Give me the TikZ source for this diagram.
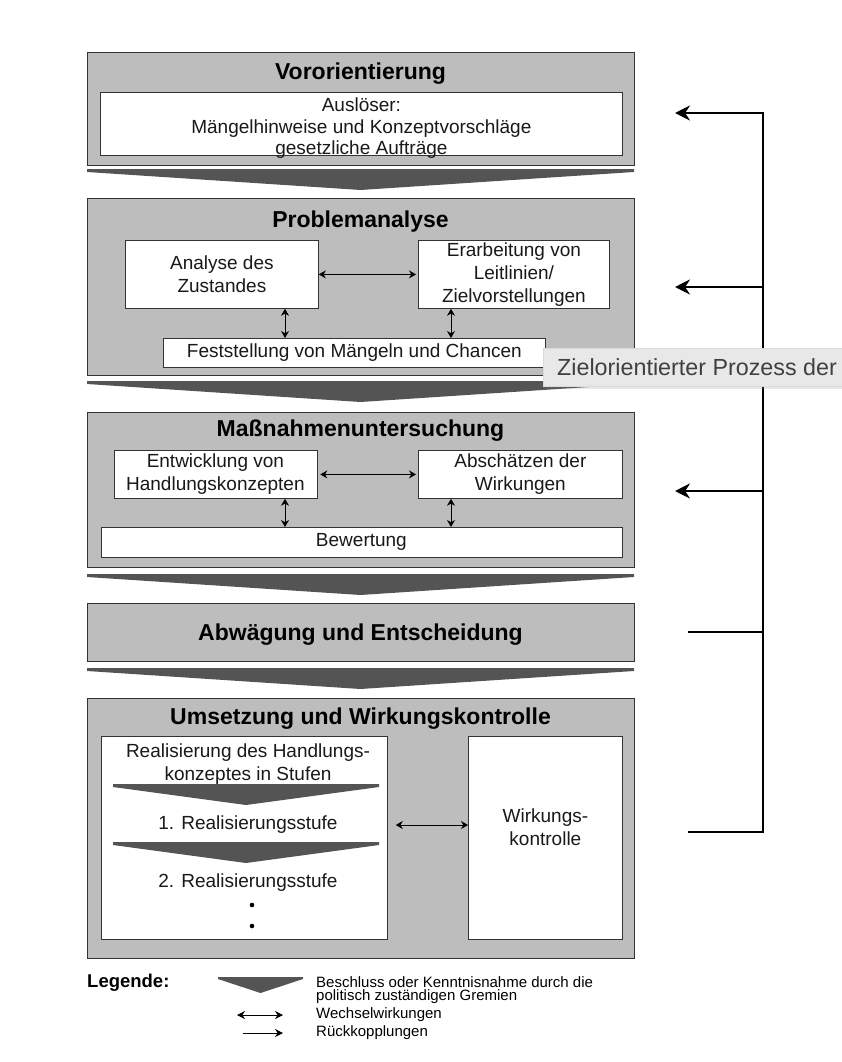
\documentclass[tikz,border=0pt]{standalone}
\usepackage{fontspec}
\setmainfont{Liberation Sans}
\usetikzlibrary{arrows.meta,positioning,shadows}
\tikzset {>=Stealth}
\definecolor{phasegrau}{gray}{0.74}
\definecolor{beschlussgrau}{gray}{0.33}
\definecolor{tipgrau}{gray}{0.91}

\begin{document}
\begin{tikzpicture}[x=1pt,y=-1pt,
  phase/.style={draw=black!80,line width=1.2pt,fill=phasegrau,
    anchor=north west,inner sep=0pt,minimum width=547pt},
  feld/.style={draw=black!80,line width=0.8pt,fill=white,
    anchor=north west,inner sep=0pt},
  titel/.style={font=\fontsize{23}{26}\selectfont\bfseries},
  txt/.style={font=\fontsize{19}{23}\selectfont,align=center,text=black!90},
  legtxt/.style={font=\fontsize{15}{16}\selectfont,anchor=west,inner sep=0pt},
  wechsel/.style={{Stealth[length=7pt,width=8pt]}-{Stealth[length=7pt,width=8pt]},
    line width=0.9pt},
  rueck/.style={-{Stealth[length=15pt,width=15pt]},line width=1.8pt},
  beschluss/.style={fill=beschlussgrau}]
\useasboundingbox (0,0) rectangle (842,1062);
\coordinate (vl) at (285,0);
\coordinate (vr) at (451,0);

% Vororientierung
\node[phase,minimum height=113pt] (voro) at (87,52) {};
\node[titel] at (360.5,74) {Vororientierung};
\node[feld,minimum width=522pt,minimum height=63pt] (ausloeser) at (100,92) {};
\node[txt,font=\fontsize{19}{21.5}\selectfont] at ([yshift=-4.5pt]ausloeser.center)
  {Ausl\"oser:\\M\"angelhinweise und Konzeptvorschl\"age\\gesetzliche Auftr\"age};

% Problemanalyse
\node[phase,minimum height=177pt] (prob) at (87,198) {};
\node[titel] at (360.5,222) {Problemanalyse};
\node[feld,txt,minimum width=193pt,minimum height=68pt] (zustand) at (125,240)
  {Analyse des\\Zustandes};
\node[feld,txt,minimum width=191pt,minimum height=68pt] (leitlinien) at (418,240)
  {Erarbeitung von\\Leitlinien/\\Zielvorstellungen};
\node[feld,txt,minimum width=382pt,minimum height=29pt] (maengel) at (163,338)
  {Feststellung von M\"angeln und Chancen};
\draw[wechsel,shorten >=2pt] (zustand) -- (leitlinien);
\draw[wechsel] (zustand.south -| vl) -- (maengel.north -| vl);
\draw[wechsel] (leitlinien.south -| vr) -- (maengel.north -| vr);

% Massnahmenuntersuchung
\node[phase,minimum height=155pt] (mass) at (87,412) {};
\node[titel] at (360.5,431) {Ma\ss nahmenuntersuchung};
\node[feld,txt,minimum width=203pt,minimum height=48pt] (konzepte) at (113.5,450)
  {Entwicklung von\\Handlungskonzepten};
\node[feld,txt,minimum width=204pt,minimum height=48pt] (wirkungen) at (418,450)
  {Absch\"atzen der\\Wirkungen};
\node[feld,txt,minimum width=521pt,minimum height=30pt] (bewertung) at (100.5,527)
  {Bewertung};
\draw[wechsel,shorten <=3pt,shorten >=2pt] (konzepte) -- (wirkungen);
\draw[wechsel] (konzepte.south -| vl) -- (bewertung.north -| vl);
\draw[wechsel] (wirkungen.south -| vr) -- (bewertung.north -| vr);

% Abwaegung
\node[phase,minimum height=58pt] (abw) at (87,603) {};
\node[titel] at (360.5,635) {Abw\"agung und Entscheidung};

% Umsetzung
\node[phase,minimum height=260pt] (umsetz) at (87,698) {};
\node[titel] at (360.5,719) {Umsetzung und Wirkungskontrolle};
\node[feld,minimum width=286.5pt,minimum height=203pt] (realis) at (100.5,736) {};
\node[feld,minimum width=154pt,minimum height=203pt] (kontrolle) at (468,736) {};
\node[txt] (stufen) at (248,764) {Realisierung des Handlungs-\\konzeptes in Stufen};
\node[txt] (stufe1) at (248,825) {1. Realisierungsstufe};
\node[txt] (stufe2) at (248,883) {2. Realisierungsstufe};
\fill (252,905) circle (2.3);
\fill (252,926) circle (2.3);
\node[txt] at ([yshift=11pt]kontrolle.center) {Wirkungs-\\kontrolle};
\draw[wechsel,shorten <=8pt] (realis.east |- stufe1) -- (kontrolle.west |- stufe1);

% Beschluesse
\foreach \xl/\xr/\yt in {87/634/169,87/634/381,87/634/574,87/634/668,
    113/379/784,113/379/842}
  \fill[beschluss] (\xl,\yt) -- (\xr,\yt) -- (\xr,\yt+3) -- ({(\xl+\xr)/2},\yt+21)
    -- (\xl,\yt+3) -- cycle;

% Rueckkopplungen
\coordinate (bus) at (763,0);
\coordinate (aus1) at (675,113);
\coordinate (aus2) at (675,287);
\coordinate (aus3) at (675,491);
\coordinate (ein1) at (688,632);
\coordinate (ein2) at (688,832);
\draw[rueck] (ein2) -- (ein2 -| bus) |- (aus1);
\draw[rueck] (aus2 -| bus) -- (aus2);
\draw[rueck] (aus3 -| bus) -- (aus3);
\draw[line width=1.8pt] (ein1) -- (ein1 -| bus);

% Legende
\node[font=\fontsize{18.5}{20}\selectfont\bfseries,anchor=west,inner sep=0pt]
  (legende) at (87,983) {Legende:};
\fill[beschluss] (218,977) -- (303,977) -- (303,979) -- (260.5,993) -- (218,979) -- cycle;
\node[legtxt] (legbeschluss) at (316,982) {Beschluss oder Kenntnisnahme durch die};
\node[legtxt] (leggremien) at (316,997) {politisch zust\"andigen Gremien};
\node[legtxt] (legwechsel) at (316,1015) {Wechselwirkungen};
\node[legtxt] (legrueck) at (316,1033) {R\"uckkopplungen};
\draw[{Stealth[length=8pt,width=8pt]}-{Stealth[length=8pt,width=8pt]},line width=0.9pt]
  ([xshift=-79pt]legwechsel.west) -- ([xshift=-33pt]legwechsel.west);
\draw[-{Stealth[length=8pt,width=8pt]},line width=0.9pt]
  ([xshift=-73pt]legrueck.west) -- ([xshift=-33pt]legrueck.west);

% Tooltip
\node[fill=tipgrau,draw=black!15,anchor=north west,minimum width=299pt,
  minimum height=38pt,inner sep=0pt,
  drop shadow={opacity=0.18,shadow xshift=0pt,shadow yshift=-3pt}] (tip) at (543,348) {};
\node[anchor=west,inner sep=0pt,text=black!75,font=\fontsize{23.3}{26}\selectfont]
  (tiptext) at (557,367) {Zielorientierter Prozess der};
\end{tikzpicture}
\end{document}
